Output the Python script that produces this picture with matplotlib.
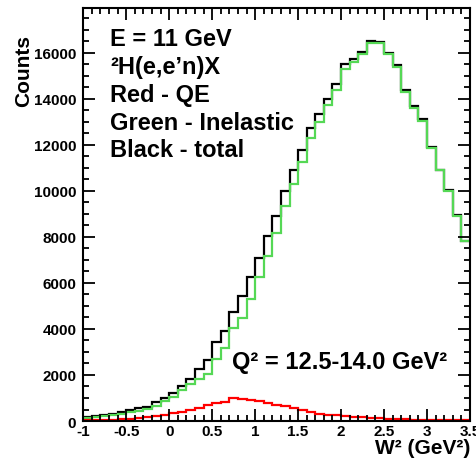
import matplotlib
matplotlib.use('Agg')
import matplotlib.pyplot as plt
import numpy as np
from matplotlib.ticker import MultipleLocator, FuncFormatter

plt.rcParams['font.family'] = ['Liberation Sans', 'DejaVu Sans']
plt.rcParams['font.weight'] = 'bold'
plt.rcParams['axes.unicode_minus'] = False

# W^2 binning: 45 bins of 0.1 GeV^2
w2_low = -1.0
w2_high = 3.5
n_bins = 45

# counts per bin (bins -1.0 ... 3.4)
total = [170, 210, 260, 320, 380, 490, 550, 620, 810, 990,
         1220, 1540, 1830, 2280, 2650, 3420, 3900, 4750, 5420, 6240,
         7080, 8030, 8930, 10000, 10890, 11760, 12720, 13350, 13980, 14660,
         15500, 15750, 16040, 16520, 16470, 16010, 15460, 14370, 13690, 13110,
         11930, 10930, 10020, 8950, 7840]
inelastic = [110, 170, 210, 260, 300, 380, 450, 520, 670, 860,
             1030, 1360, 1610, 1830, 2040, 2700, 3160, 4030, 4470, 5310,
             6260, 7190, 8180, 9330, 10280, 11270, 12300, 13000, 13720, 14400,
             15310, 15600, 15930, 16440, 16410, 15930, 15380, 14300, 13620, 13060,
             11880, 10890, 9980, 8920, 7810]
qe = [30, 40, 50, 65, 80, 100, 130, 160, 200, 260,
      330, 400, 480, 560, 680, 780, 840, 1020, 960, 910,
      860, 780, 700, 640, 550, 460, 390, 320, 280, 240,
      210, 190, 170, 140, 120, 100, 90, 80, 65, 55,
      50, 45, 40, 35, 30]

edges = np.linspace(w2_low, w2_high, n_bins + 1)

fig = plt.figure(figsize=(4.77, 4.64), dpi=100)
ax = fig.add_axes([0.1746, 0.0905, 0.8107, 0.8901])

ax.stairs(total, edges, baseline=None, color='black', lw=1.6)
ax.stairs(inelastic, edges, baseline=None, color='#55d855', lw=1.6)
ax.stairs(qe, edges, baseline=None, color='red', lw=1.6)

ax.set_xlim(w2_low, w2_high)
ax.set_ylim(0, 17950)

ax.xaxis.set_major_locator(MultipleLocator(0.5))
ax.xaxis.set_minor_locator(MultipleLocator(0.1))
ax.yaxis.set_major_locator(MultipleLocator(2000))
ax.yaxis.set_minor_locator(MultipleLocator(500))
ax.xaxis.set_major_formatter(FuncFormatter(lambda v, p: '%g' % v))
ax.yaxis.set_major_formatter(FuncFormatter(lambda v, p: '%d' % v))

ax.tick_params(which='both', direction='in', top=True, right=True, width=1.3,
               labelsize=11)
ax.tick_params(which='major', length=8.5)
ax.tick_params(which='minor', length=4.3)
ax.tick_params(axis='y', pad=5)
ax.tick_params(axis='x', pad=2)
for s in ax.spines.values():
    s.set_linewidth(1.5)

ax.set_ylabel('Counts', fontsize=15, fontweight='bold', loc='top')
ax.yaxis.set_label_coords(-0.13, 0.937)
ax.set_xlabel('W\u00b2 (GeV\u00b2)', fontsize=15, fontweight='bold', loc='right')
ax.xaxis.set_label_coords(1.0, -0.042)

lines = ['E = 11 GeV', '\u00b2H(e,e\u2019n)X', 'Red - QE',
         'Green - Inelastic', 'Black - total']
baselines = [46, 74, 102, 130, 157]
for txt, yb in zip(lines, baselines):
    ax.text(0.069, (422 - yb) / 413, txt, transform=ax.transAxes,
            fontsize=17, fontweight='bold', va='baseline', ha='left')

ax.text(0.385, (422 - 369) / 413, 'Q\u00b2 = 12.5-14.0 GeV\u00b2',
        transform=ax.transAxes, fontsize=17, fontweight='bold',
        va='baseline', ha='left')

fig.savefig('out.png', dpi=100)
